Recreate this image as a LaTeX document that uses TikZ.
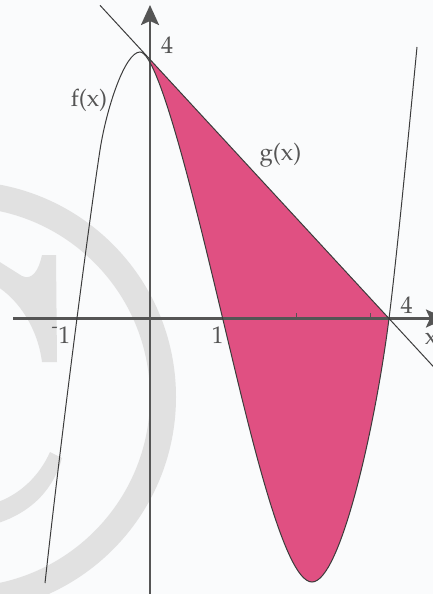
\documentclass[tikz,border=0pt]{standalone}
\usepackage[T1]{fontenc}
\usepackage{mathpazo}
\usetikzlibrary{arrows.meta}
\definecolor{bgc}{RGB}{250,251,252}
\definecolor{wm}{RGB}{225,225,225}
\definecolor{axc}{RGB}{85,85,85}
\definecolor{crv}{RGB}{60,60,60}
\definecolor{txt}{RGB}{85,85,85}
\definecolor{pinkf}{RGB}{224,80,130}
\begin{document}
\begin{tikzpicture}[x=1pt,y=-1pt,
  axisline/.style={draw=axc,line width=2.6pt,-{Stealth[length=20pt,width=18pt,inset=4pt]}},
  curveline/.style={draw=crv,line width=1pt},
  tickline/.style={draw=axc,line width=1pt},
  lbl/.style={text=txt,inner sep=0pt,font=\fontsize{24}{28}\selectfont}]
\useasboundingbox (0,0) rectangle (433,594);
\fill[bgc] (0,0) rectangle (433,594);
% watermark
\draw[wm,line width=26pt] (-40,397) circle (203pt);
\fill[wm] (42,255) -- (56,255) -- (57,362) -- (42,362)
  .. controls (38,330) and (20,300) .. (-5,285) -- (-5,259) -- (22,276)
  .. controls (32,281) and (39,270) .. (42,255) -- cycle;
\fill[wm] (-5,503) .. controls (20,495) and (40,475) .. (50,452) -- (62,458)
  .. controls (55,485) and (35,512) .. (-5,524) -- cycle;
% coordinates
\coordinate (xL) at (13,318.5);
\coordinate (xR) at (446,318.5);
\coordinate (yB) at (150,600);
\coordinate (yT) at (150,5);
\coordinate (gA) at (100,5.3);
\coordinate (gB) at (440,373.8);
\coordinate (P0) at (150,59.5);
\coordinate (P4) at (389,318.5);
\coordinate (fS) at (45,583);
\coordinate (fA) at (100,150);
\coordinate (fMax) at (140,52);
\coordinate (fR1) at (222.7,318.5);
\coordinate (fMin) at (312,582);
\coordinate (fR4) at (389,318.5);
\coordinate (fE) at (417,47);
\def\fpath{(fS) .. controls (63,420) and (90,215) .. (fA)
  .. controls (106.5,108) and (125,52) .. (fMax)
  .. controls (160,52) and (201.1,228.5) .. (fR1)
  .. controls (249.1,428.5) and (284,582) .. (fMin)
  .. controls (340,582) and (375,428.5) .. (fR4)
  .. controls (396.6,258.5) and (409,130) .. (fE)}
% shaded area
\begin{scope}
\clip (P0) -- (P4) -- (389,600) -- (150,600) -- cycle;
\fill[pinkf] \fpath -- (417,-10) -- (45,-10) -- cycle;
\end{scope}
% axes
\draw[axisline] (xL) -- (xR);
\draw[axisline] (yB) -- (yT);
\draw[tickline] (296.7,318.5) -- (296.7,313);
\draw[tickline] (370,318.5) -- (370,313);
% curves
\draw[curveline] \fpath;
\draw[curveline] (gA) -- (gB);
% labels
\node[lbl] (l4y) at (167,45) {4};
\node[lbl] (lf) at (89,100) {f(x)};
\node[lbl] (lg) at (280.5,155) {g(x)};
\node[lbl,anchor=east] (lm1) at (70.5,335.5) {\raisebox{0.25ex}{\textsuperscript{-}}1};
\node[lbl] (l1) at (217.5,335.5) {1};
\node[lbl] (l4x) at (406.5,305) {4};
\node[lbl] (lx) at (431,339) {x};
\end{tikzpicture}
\end{document}
